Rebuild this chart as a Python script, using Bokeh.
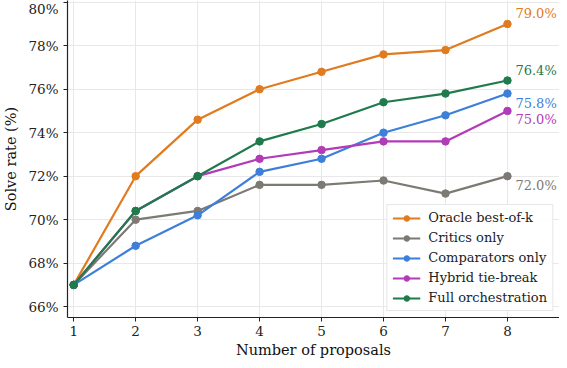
from bokeh.plotting import figure
from bokeh.models import FixedTicker, PrintfTickFormatter, Range1d, Legend, LegendItem, Label
from bokeh.embed import file_html
from bokeh.resources import INLINE

proposals = [1, 2, 3, 4, 5, 6, 7, 8]
oracle = [67.0, 72.0, 74.6, 76.0, 76.8, 77.6, 77.8, 79.0]
critics = [67.0, 70.0, 70.4, 71.6, 71.6, 71.8, 71.2, 72.0]
comparators = [67.0, 68.8, 70.2, 72.2, 72.8, 74.0, 74.8, 75.8]
hybrid = [67.0, 70.4, 72.0, 72.8, 73.2, 73.6, 73.6, 75.0]
full = [67.0, 70.4, 72.0, 73.6, 74.4, 75.4, 75.8, 76.4]
series_names = ["Oracle best-of-k", "Critics only", "Comparators only", "Hybrid tie-break", "Full orchestration"]
y_ticks = [66, 68, 70, 72, 74, 76, 78, 80]

series = [oracle, critics, comparators, hybrid, full]
colors = ["#E07B20", "#7D7A73", "#3D7FD9", "#B23CB8", "#1F7A4C"]
label_offsets = [10, -9, -10, -9, 10]

FONT = "DejaVu Serif"

p = figure(width=559, height=360, output_backend="svg", toolbar_location=None,
           x_range=Range1d(0.9, 8.84), y_range=Range1d(65.5, 80.08),
           min_border_left=59, min_border_right=0, min_border_top=0, min_border_bottom=40)
p.outline_line_color = None
p.background_fill_color = "white"

for ax in (p.xaxis[0], p.yaxis[0]):
    ax.major_label_text_font = FONT
    ax.major_label_text_font_size = "13.5px"
    ax.major_label_text_color = "#222222"
    ax.axis_label_text_font = FONT
    ax.axis_label_text_font_size = "14.5px"
    ax.axis_label_text_font_style = "normal"
    ax.axis_label_text_color = "#111111"
    ax.axis_line_color = "#222222"
    ax.axis_line_width = 1.2
    ax.major_tick_line_color = "#222222"
    ax.major_tick_in = 0
    ax.major_tick_out = 4
    ax.minor_tick_line_color = None

p.xaxis.ticker = FixedTicker(ticks=proposals)
p.yaxis.ticker = FixedTicker(ticks=y_ticks)
p.yaxis.formatter = PrintfTickFormatter(format="%d%%")
p.xaxis.axis_label = "Number of proposals"
p.yaxis.axis_label = "Solve rate (%)"
p.xaxis.axis_label_standoff = 3
p.yaxis.axis_label_standoff = 6
p.xaxis.major_label_standoff = 4

p.xgrid.grid_line_color = "#e8e8e8"
p.ygrid.grid_line_color = "#e8e8e8"
p.xgrid.ticker = FixedTicker(ticks=proposals)
p.ygrid.ticker = FixedTicker(ticks=y_ticks)

items = []
for name, vals, col, off in zip(series_names, series, colors, label_offsets):
    r1 = p.line(proposals, vals, line_color=col, line_width=2.2)
    r2 = p.scatter(proposals, vals, size=7.5, fill_color=col, line_color=col)
    items.append(LegendItem(label=name, renderers=[r1, r2]))
    p.add_layout(Label(x=proposals[-1], y=vals[-1], x_offset=8, y_offset=off,
                       text="%.1f%%" % vals[-1], text_font=FONT, text_font_size="13px",
                       text_color=col, text_baseline="middle", text_align="left"))

legend = Legend(items=items, location="bottom_right")
legend.label_text_font = FONT
legend.label_text_font_size = "13px"
legend.label_text_color = "#222222"
legend.border_line_color = "#d0d0d0"
legend.background_fill_alpha = 0.9
legend.glyph_width = 28
legend.glyph_height = 14
legend.label_height = 14
legend.spacing = 5
legend.padding = 5
legend.margin = 6
legend.label_standoff = 8
p.add_layout(legend)

open("out.html", "w").write(file_html(p, INLINE))
